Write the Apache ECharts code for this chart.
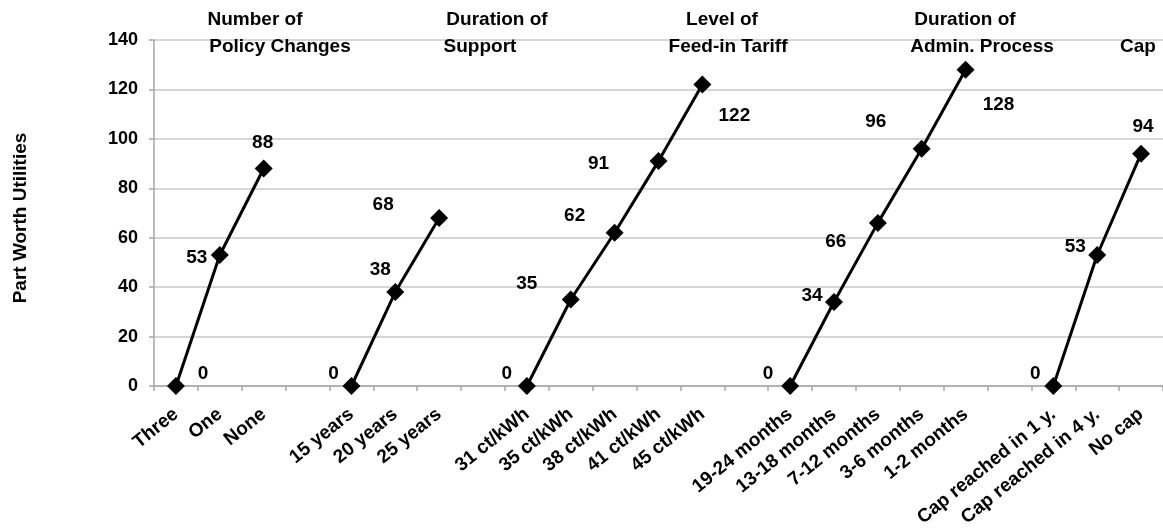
<!DOCTYPE html>
<html>
<head>
<meta charset="utf-8">
<script src="https://cdn.jsdelivr.net/npm/echarts@6/dist/echarts.min.js"></script>
<style>
  html, body { margin: 0; padding: 0; background: #fff; }
  #chart { width: 1163px; height: 530px; }
</style>
</head>
<body>
<div id="chart"></div>
<script>
// Part worth utilities per attribute level
const policyChangeLevels = ['Three', 'One', 'None'];
const policyChangeValues = [0, 53, 88];

const supportDurations = ['15 years', '20 years', '25 years'];
const supportValues = [0, 38, 68];

const tariffLevels = ['31 ct/kWh', '35 ct/kWh', '38 ct/kWh', '41 ct/kWh', '45 ct/kWh'];
const tariffValues = [0, 35, 62, 91, 122];

const adminDurations = ['19-24 months', '13-18 months', '7-12 months', '3-6 months', '1-2 months'];
const adminValues = [0, 34, 66, 96, 128];

const capLevels = ['Cap reached in 1 y.', 'Cap reached in 4 y.', 'No cap'];
const capValues = [0, 53, 94];

// Attribute headings (two lines each)
const attributeTitles = [
  ['Number of', 'Policy Changes'],
  ['Duration of', 'Support'],
  ['Level of', 'Feed-in Tariff'],
  ['Duration of', 'Admin. Process'],
  ['', 'Cap']
];

// Value axis ticks
const yMin = 0, yMax = 140, yStep = 20;

// Layout: heading line centres (x) and data label nudges [dx, dy] per point
const titleCenters = [[255, 280], [497, 480], [722, 728], [965, 982], [1138, 1138]];
const labelNudges = [
  [[27, -12], [-23, 3], [-1, -26]],
  [[-18, -12], [-15, -22], [-56, -13]],
  [[-20, -12], [-44, -16], [-40, -17], [-60, 3], [32, 31]],
  [[-22, -12], [-22, -6], [-42, 19], [-46, -27], [33, 35]],
  [[-18, -12], [-22, -8], [2, -27]]
];

const groups = [
  { levels: policyChangeLevels, values: policyChangeValues },
  { levels: supportDurations, values: supportValues },
  { levels: tariffLevels, values: tariffValues },
  { levels: adminDurations, values: adminValues },
  { levels: capLevels, values: capValues }
];

// One category axis, with an empty slot between attributes
const categories = [];
const groupStart = [];
groups.forEach((g, gi) => {
  if (gi > 0) categories.push('');
  groupStart.push(categories.length);
  g.levels.forEach(l => categories.push(l));
});

const FONT = '"Liberation Sans", Arial, sans-serif';
const FS = 19;

const series = groups.map((g, gi) => {
  const data = categories.map(() => '-');
  g.values.forEach((v, i) => {
    data[groupStart[gi] + i] = {
      value: v,
      label: { offset: labelNudges[gi][i] }
    };
  });
  return {
    type: 'line',
    data: data,
    connectNulls: false,
    symbol: 'diamond',
    symbolSize: 18,
    showAllSymbol: true,
    lineStyle: { color: '#000', width: 3 },
    itemStyle: { color: '#000' },
    label: {
      show: true,
      position: 'inside',
      color: '#000',
      fontFamily: FONT,
      fontWeight: 'bold',
      fontSize: FS
    },
    emphasis: { disabled: true },
    animation: false,
    z: 3
  };
});

const graphics = [];
attributeTitles.forEach((t, ti) => {
  t.forEach((line, li) => {
    if (!line) return;
    graphics.push({
      type: 'text',
      x: titleCenters[ti][li],
      y: li === 0 ? 20 : 47,
      style: {
        text: line,
        fill: '#000',
        font: 'bold ' + FS + 'px ' + FONT,
        textAlign: 'center',
        textVerticalAlign: 'middle'
      },
      z: 10
    });
  });
});

const chart = echarts.init(document.getElementById('chart'), null, { renderer: 'canvas' });
chart.setOption({
  backgroundColor: '#fff',
  animation: false,
  grid: { left: 154, top: 40, width: 1014, bottom: 144, containLabel: false },
  xAxis: {
    type: 'category',
    data: categories,
    boundaryGap: true,
    axisLine: { lineStyle: { color: '#a6a6a6', width: 1.5 } },
    axisTick: { show: true, interval: 0, length: 5, lineStyle: { color: '#a6a6a6', width: 1.5 } },
    axisLabel: {
      interval: 0,
      rotate: 39,
      margin: 26,
      color: '#000',
      fontFamily: FONT,
      fontWeight: 'bold',
      fontSize: FS
    },
    splitLine: { show: false }
  },
  yAxis: {
    type: 'value',
    min: yMin,
    max: yMax,
    interval: yStep,
    name: 'Part Worth Utilities',
    nameLocation: 'middle',
    nameRotate: 90,
    nameGap: 124,
    nameTextStyle: {
      color: '#000',
      fontFamily: FONT,
      fontWeight: 'bold',
      fontSize: FS,
      padding: [0, 10, 0, 0]
    },
    axisLine: { show: true, lineStyle: { color: '#a6a6a6', width: 1.5 } },
    axisTick: { show: true, length: 5, lineStyle: { color: '#a6a6a6', width: 1.5 } },
    axisLabel: {
      margin: 16,
      color: '#000',
      fontFamily: FONT,
      fontWeight: 'bold',
      fontSize: 18
    },
    splitLine: { show: true, lineStyle: { color: '#c8c8c8', width: 1.5 } }
  },
  graphic: graphics,
  series: series
});
</script>
</body>
</html>
